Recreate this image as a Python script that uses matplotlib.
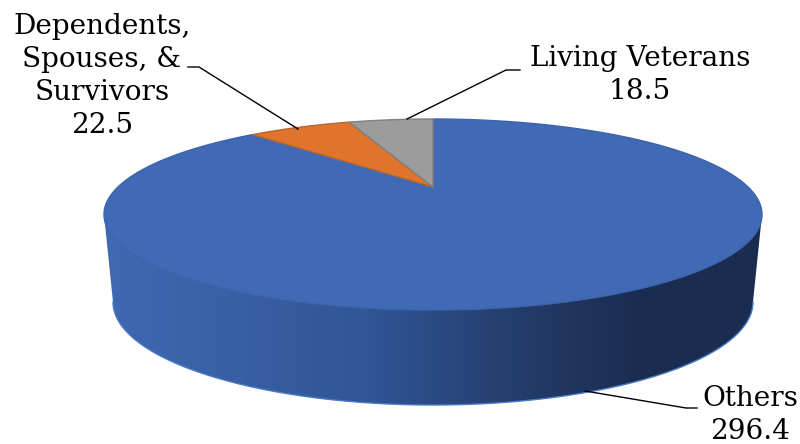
from matplotlib import pyplot as plt
from matplotlib.colors import LinearSegmentedColormap
from matplotlib.patches import Polygon
import numpy as np

labels = ['Others', 'Dependents,\nSpouses, &\nSurvivors', 'Living Veterans']
values = [296.4, 22.5, 18.5]
colors = ['#4069b6', '#e0742c', '#9c9c9c']
edges = ['#3c64ac', '#b8662c', '#7f7f7f']

# pie geometry, in picture pixels
cx, cy = 433.0, 214.5
rx, ry = 329.0, 95.5
apex_up = 27.5
k = apex_up/ry
a = rx*np.sqrt(1 - k*k)


def project(t):
	# circle to ellipse, perspective so that the centre lands on the apex
	u, v = np.sin(t), np.cos(t)
	d = 1 + k*v
	return cx + a*u/d, cy - (ry*v + apex_up)/d


def main():
	fig = plt.figure(figsize=(8, 4.44), dpi=100)
	ax = fig.add_axes([0, 0, 1, 1])

	# side wall
	s = np.linspace(0, np.pi, 200)
	top_x, top_y = cx - rx*np.cos(s), cy + ry*np.sin(s)
	bot_x, bot_y = cx - 320*np.cos(s), 302 + 103*np.sin(s)
	side = np.column_stack([np.r_[top_x, bot_x[::-1]], np.r_[top_y, bot_y[::-1]]])
	cmap = LinearSegmentedColormap.from_list('side', [
		(0.0, '#3f69b2'), (0.15, '#3a62a8'), (0.4, '#305696'),
		(0.6, '#263f70'), (0.8, '#1b2e52'), (1.0, '#1a2c50')])
	im = ax.imshow(np.linspace(0, 1, 256).reshape(1, -1), extent=(104, 762, 410, 210),
		cmap=cmap, aspect='auto', zorder=1)
	clip = Polygon(side, closed=True, transform=ax.transData, fc='none', ec='none')
	ax.add_patch(clip)
	im.set_clip_path(clip)
	ax.plot(bot_x, bot_y, color='#4a78c4', lw=1, zorder=2)

	# top face, clockwise from 12 o'clock
	cum = np.r_[0, np.cumsum(values)]/np.sum(values)*2*np.pi
	ax0, ay0 = cx, cy - apex_up
	for i in range(len(values)):
		t = np.linspace(cum[i], cum[i+1], 300)
		x, y = project(t)
		ax.fill(np.r_[ax0, x], np.r_[ay0, y], fc=colors[i], ec=edges[i], lw=1,
			zorder=3 + i, joinstyle='round')

	# leader lines
	ax.plot([188, 199, 298], [67, 67, 129], color='black', lw=1, zorder=8)
	ax.plot([407, 506, 520], [119, 70, 70], color='black', lw=1, zorder=8)
	ax.plot([585, 686, 697], [391, 408, 408], color='black', lw=1, zorder=8)

	font = dict(family='DejaVu Serif', fontsize=20.1, color='black', ha='center',
		va='center', linespacing=1.28, zorder=9)
	ax.text(102, 76, labels[1] + '\n' + str(values[1]), **font)
	ax.text(640, 75, labels[2] + '\n' + str(values[2]), **font)
	ax.text(750, 415, labels[0] + '\n' + str(values[0]), **font)

	ax.set_xlim(0, 800)
	ax.set_ylim(444, 0)
	ax.axis('off')
	plt.savefig('out.png', dpi=100)
	plt.close(fig)


if __name__ == '__main__':
	main()
